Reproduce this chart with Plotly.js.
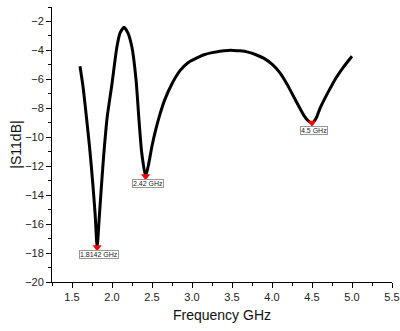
<!DOCTYPE html>
<html>
<head>
<meta charset="utf-8">
<script src="https://cdn.plot.ly/plotly-3.0.1.min.js"></script>
<style>html,body{margin:0;padding:0;background:#fff;}#chart{width:400px;height:331px;}</style>
</head>
<body>
<div id="chart"></div>
<script>
// Frequency (GHz) and |S11| (dB)
var freq = [1.60,1.64,1.68,1.72,1.76,1.79,1.8142,1.84,1.87,1.90,1.94,2.00,2.06,2.10,2.15,2.20,2.25,2.30,2.34,2.37,2.42,2.46,2.50,2.55,2.60,2.66,2.75,2.85,2.95,3.05,3.15,3.25,3.35,3.45,3.52,3.60,3.70,3.80,3.90,4.00,4.10,4.20,4.30,4.40,4.45,4.50,4.55,4.60,4.70,4.80,4.90,5.00];
var s11 = [-5.1,-6.6,-8.6,-10.7,-13.2,-15.4,-17.6,-15.6,-13.2,-11.0,-8.6,-6.3,-3.8,-2.8,-2.4,-2.8,-3.8,-6.0,-9.0,-11.0,-12.7,-11.8,-10.6,-9.4,-8.4,-7.4,-6.3,-5.4,-4.85,-4.55,-4.3,-4.15,-4.05,-4.0,-4.0,-4.03,-4.12,-4.3,-4.55,-4.95,-5.55,-6.45,-7.5,-8.5,-8.85,-9.0,-8.7,-8.0,-6.9,-5.9,-5.1,-4.4];
// Marked resonances
var markFreq = [1.8142, 2.42, 4.5];
var markS11 = [-17.6, -12.7, -9.0];
var markLabels = ["1.8142 GHz", "2.42 GHz", "4.5 GHz"];

var traces = [
  {x: freq, y: s11, type: 'scatter', mode: 'lines', line: {color: '#000', width: 3, shape: 'spline', smoothing: 0.6}, hoverinfo: 'skip'},
  {x: markFreq, y: markS11, type: 'scatter', mode: 'markers', marker: {symbol: 'triangle-down', color: '#ff0000', size: 8}, hoverinfo: 'skip'}
];

var annotations = markFreq.map(function(f, i) {
  return {x: f, y: markS11[i], xref: 'x', yref: 'y', text: markLabels[i], showarrow: false,
    yanchor: 'top', yshift: -3, xshift: 2, font: {family: 'Liberation Sans, Arial, sans-serif', size: 7, color: '#222'},
    bgcolor: '#fff', bordercolor: '#999', borderwidth: 1, borderpad: 0};
});

var axisFont = {family: 'Liberation Sans, Arial, sans-serif', size: 11, color: '#222'};
var layout = {
  width: 400, height: 331,
  margin: {l: 52, r: 8, t: 7, b: 49},
  paper_bgcolor: '#fff', plot_bgcolor: '#fff',
  showlegend: false,
  xaxis: {
    range: [1.25, 5.5], tick0: 1.5, dtick: 0.5, tickformat: '.1f',
    ticks: 'outside', ticklen: 5, tickwidth: 1, tickcolor: '#000',
    minor: {dtick: 0.25, ticks: 'outside', ticklen: 3, tickcolor: '#000', showgrid: false},
    showline: true, linecolor: '#000', linewidth: 1, showgrid: false, zeroline: false,
    tickfont: axisFont,
    title: {text: 'Frequency GHz', font: {family: 'Liberation Sans, Arial, sans-serif', size: 14, color: '#111'}, standoff: 7}
  },
  yaxis: {
    range: [-20, -1], tick0: -20, dtick: 2,
    ticks: 'outside', ticklen: 5, tickwidth: 1, tickcolor: '#000',
    minor: {dtick: 1, ticks: 'outside', ticklen: 3, tickcolor: '#000', showgrid: false},
    showline: true, linecolor: '#000', linewidth: 1, showgrid: false, zeroline: false,
    tickfont: axisFont,
    title: {text: '|S11dB|', font: {family: 'Liberation Sans, Arial, sans-serif', size: 14, color: '#111'}, standoff: 0}
  },
  annotations: annotations
};
Plotly.newPlot('chart', traces, layout, {staticPlot: true, displayModeBar: false});
</script>
</body>
</html>
